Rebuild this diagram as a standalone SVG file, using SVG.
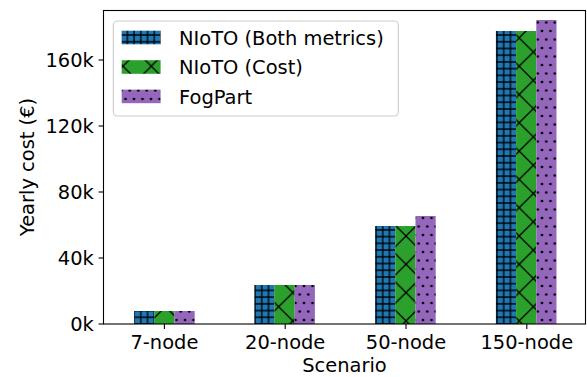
<svg xmlns="http://www.w3.org/2000/svg" width="587" height="377" viewBox="0 0 587 377">
<style>
text{font-family:"DejaVu Sans","Liberation Sans",sans-serif;font-size:19.44px;fill:#000}
.yt{text-anchor:end}
.xt{text-anchor:middle}
.tick{stroke:#000;stroke-width:1.1}
.spine{fill:none;stroke:#000;stroke-width:1.1}
.hatch{stroke:#000;stroke-width:1.3;fill:none}
</style>
<defs>
<pattern id="pBlue" patternUnits="userSpaceOnUse" x="134.1" y="324" width="6.72" height="6.72">
<rect width="6.72" height="6.72" fill="#1f77b4"/>
<path class="hatch" d="M0 0V6.72M6.72 0V6.72M0 0H6.72M0 6.72H6.72"/>
</pattern>
<pattern id="pGreen" patternUnits="userSpaceOnUse" x="406" y="236" width="28.3" height="28.3">
<rect width="28.3" height="28.3" fill="#2ca02c"/>
<path class="hatch" d="M-28.3 -28.3L56.6 56.6M0 -28.3L56.6 28.3M-28.3 0L28.3 56.6M-28.3 56.6L56.6 -28.3M-28.3 28.3L28.3 -28.3M0 56.6L56.6 0"/>
</pattern>
<pattern id="pPurple" patternUnits="userSpaceOnUse" x="176.5" y="320" width="8.5" height="17">
<rect width="8.5" height="17" fill="#9467bd"/>
<g fill="#000">
<circle cx="0" cy="0" r="1.35"/><circle cx="8.5" cy="0" r="1.35"/>
<circle cx="0" cy="17" r="1.35"/><circle cx="8.5" cy="17" r="1.35"/>
<circle cx="4.25" cy="8.5" r="1.35"/>
</g>
</pattern>
</defs>
<rect width="587" height="377" fill="#fff"/>

<g id="bars">
<g id="bar-7-node">
<rect x="134.1" y="311" width="20.2" height="13" fill="url(#pBlue)"/>
<rect x="154.3" y="311" width="20.2" height="13" fill="url(#pGreen)"/>
<rect x="174.5" y="311" width="20.2" height="13" fill="url(#pPurple)"/>
</g>
<g id="bar-20-node">
<rect x="254.3" y="285" width="20.2" height="39" fill="url(#pBlue)"/>
<rect x="274.5" y="285" width="20.2" height="39" fill="url(#pGreen)"/>
<rect x="294.7" y="285" width="20.2" height="39" fill="url(#pPurple)"/>
</g>
<g id="bar-50-node">
<rect x="375.1" y="226" width="20.2" height="98" fill="url(#pBlue)"/>
<rect x="395.3" y="226" width="20.2" height="98" fill="url(#pGreen)"/>
<rect x="415.5" y="216" width="20.2" height="108" fill="url(#pPurple)"/>
</g>
<g id="bar-150-node">
<rect x="495.9" y="31" width="20.2" height="293" fill="url(#pBlue)"/>
<rect x="516.1" y="31" width="20.2" height="293" fill="url(#pGreen)"/>
<rect x="536.3" y="20" width="20.2" height="304" fill="url(#pPurple)"/>
</g>
</g>

<g id="axes">
<rect class="spine" x="103.5" y="10.5" width="482" height="313.5"/>
<g id="yticks">
<line class="tick" x1="98.6" y1="324" x2="103.5" y2="324"/>
<line class="tick" x1="98.6" y1="258" x2="103.5" y2="258"/>
<line class="tick" x1="98.6" y1="192" x2="103.5" y2="192"/>
<line class="tick" x1="98.6" y1="126" x2="103.5" y2="126"/>
<line class="tick" x1="98.6" y1="60" x2="103.5" y2="60"/>
<text class="yt" x="93.8" y="331">0k</text>
<text class="yt" x="93.8" y="265">40k</text>
<text class="yt" x="93.8" y="199">80k</text>
<text class="yt" x="93.8" y="133">120k</text>
<text class="yt" x="93.8" y="67">160k</text>
</g>
<g id="xticks">
<line class="tick" x1="164.4" y1="324" x2="164.4" y2="328.9"/>
<line class="tick" x1="285.2" y1="324" x2="285.2" y2="328.9"/>
<line class="tick" x1="406" y1="324" x2="406" y2="328.9"/>
<line class="tick" x1="526.8" y1="324" x2="526.8" y2="328.9"/>
<text class="xt" x="164.4" y="349">7-node</text>
<text class="xt" x="285.2" y="349">20-node</text>
<text class="xt" x="406" y="349">50-node</text>
<text class="xt" x="526.8" y="349">150-node</text>
</g>
<text class="xt" x="344.5" y="372">Scenario</text>
<text class="xt" transform="translate(33.5 167) rotate(-90)">Yearly cost (€)</text>
</g>

<g id="legend">
<rect x="113.3" y="21" width="285" height="95" rx="4" ry="4" fill="#fff" fill-opacity="0.8" stroke="#cccccc" stroke-width="1.1"/>
<g id="legend-both">
<rect x="121.7" y="30.7" width="38.9" height="13.6" fill="url(#pBlue)"/>
<text x="179" y="44.6">NIoTO (Both metrics)</text>
</g>
<g id="legend-cost">
<rect x="121.7" y="60.2" width="38.9" height="13.6" fill="url(#pGreen)"/>
<text x="179" y="74.1">NIoTO (Cost)</text>
</g>
<g id="legend-fogpart">
<rect x="121.7" y="89.6" width="38.9" height="13.6" fill="url(#pPurple)"/>
<text x="179" y="103.5">FogPart</text>
</g>
</g>
</svg>
